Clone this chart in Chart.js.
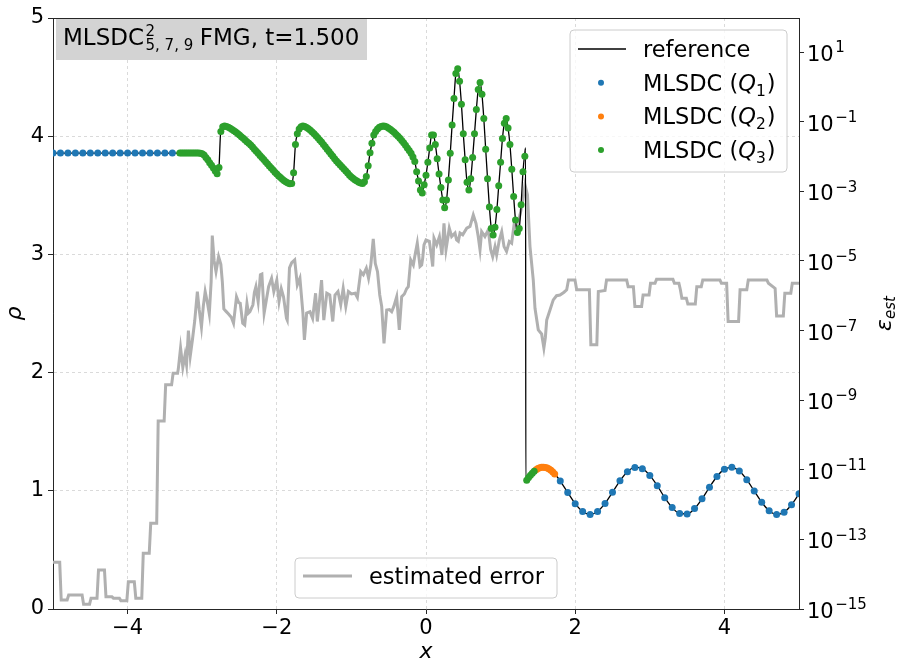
<!DOCTYPE html>
<html>
<head>
<meta charset="utf-8">
<title>MLSDC FMG t=1.500</title>
<script src="https://cdn.jsdelivr.net/npm/chart.js@4.4.1/dist/chart.umd.min.js"></script>
<style>
  html, body { margin: 0; padding: 0; background: #fff; }
  #wrap { width: 900px; height: 671px; position: relative; }
</style>
</head>
<body>
<div id="wrap"><canvas id="c"></canvas></div>
<script>
// ---- Axis ticks ----
var xTicks = [-4, -2, 0, 2, 4];
var rhoTicks = [0, 1, 2, 3, 4, 5];
var errTicks = [1e-15, 1e-13, 1e-11, 1e-9, 1e-7, 1e-5, 1e-3, 1e-1, 1e1];

// ---- MLSDC level Q1 (coarse, dx = 0.1) ----
var q1X = [-5.0, -4.9, -4.8, -4.7, -4.6, -4.5, -4.4, -4.3, -4.2, -4.1, -4.0, -3.9, -3.8, -3.7, -3.6, -3.5, -3.4,
  1.8, 1.9, 2.0, 2.1, 2.2, 2.3, 2.4, 2.5, 2.6, 2.7, 2.8, 2.9, 3.0, 3.1, 3.2, 3.3, 3.4, 3.5, 3.6, 3.7,
  3.8, 3.9, 4.0, 4.1, 4.2, 4.3, 4.4, 4.5, 4.6, 4.7, 4.8, 4.9, 5.0];
var q1Y = [3.857, 3.857, 3.857, 3.857, 3.857, 3.857, 3.857, 3.857, 3.857, 3.857, 3.857, 3.857, 3.857, 3.857, 3.857, 3.857, 3.857,
  1.082, 0.985, 0.891, 0.824, 0.800, 0.825, 0.893, 0.987, 1.084, 1.161, 1.198, 1.187, 1.130, 1.043, 0.942, 0.858, 0.808, 0.804, 0.850, 0.932,
  1.030, 1.121, 1.183, 1.199, 1.167, 1.094, 0.998, 0.903, 0.831, 0.800, 0.819, 0.882, 0.974];

// ---- MLSDC level Q2 ----
var q2X = [1.475, 1.5, 1.525, 1.55, 1.575, 1.6, 1.625, 1.65, 1.675, 1.7, 1.725];
var q2Y = [1.179, 1.188, 1.194, 1.199, 1.200, 1.198, 1.192, 1.184, 1.173, 1.160, 1.143];

// ---- MLSDC level Q3 (fine mesh, nodes from x = -3.3 every 0.025) ----
var q3X0 = -3.3, q3DX = 0.025;
var q3Y = [
  3.857, 3.857, 3.857, 3.857, 3.857, 3.857, 3.857, 3.857, 3.857, 3.857,   // -3.300
  3.857, 3.856, 3.852, 3.840, 3.820, 3.800, 3.776, 3.754, 3.730, 3.706,   // -3.050
  3.682, 3.735, 4.040, 4.080, 4.086, 4.083, 4.076, 4.067, 4.057, 4.046,   // -2.800
  4.035, 4.023, 4.010, 3.996, 3.982, 3.968, 3.954, 3.940, 3.925, 3.908,   // -2.550
  3.890, 3.872, 3.855, 3.837, 3.820, 3.802, 3.784, 3.766, 3.748, 3.730,   // -2.300
  3.713, 3.696, 3.680, 3.664, 3.650, 3.636, 3.624, 3.613, 3.604, 3.598,   // -2.050
  3.600, 3.690, 3.930, 4.020, 4.060, 4.080, 4.086, 4.082, 4.073, 4.062,   // -1.800
  4.050, 4.035, 4.020, 4.003, 3.986, 3.968, 3.950, 3.930, 3.910, 3.890,   // -1.550
  3.870, 3.850, 3.830, 3.810, 3.790, 3.773, 3.756, 3.740, 3.722, 3.705,   // -1.300
  3.688, 3.670, 3.655, 3.642, 3.630, 3.620, 3.610, 3.604, 3.600, 3.615,   // -1.050
  3.660, 3.750, 3.860, 3.940, 4.010, 4.040, 4.060, 4.075, 4.083, 4.086,   // -0.800
  4.084, 4.078, 4.068, 4.057, 4.045, 4.032, 4.015, 4.000, 3.982, 3.963,   // -0.550
  3.944, 3.923, 3.900, 3.880, 3.855, 3.825, 3.785, 3.700, 3.620, 3.545,   // -0.300
  3.520, 3.590, 3.670, 3.780, 3.900, 4.010, 4.010, 3.930, 3.810, 3.680,   // -0.050
  3.565, 3.460, 3.395, 3.460, 3.630, 3.855, 4.095, 4.320, 4.530, 4.570,   //  0.200
  4.465, 4.270, 4.020, 3.800, 3.610, 3.545, 3.640, 3.820, 4.020, 4.225,   //  0.450
  4.395, 4.455, 4.355, 4.150, 3.890, 3.640, 3.400, 3.220, 3.165, 3.230,   //  0.700
  3.380, 3.580, 3.780, 3.980, 4.110, 4.150, 4.070, 3.930, 3.720, 3.490,   //  0.950
  3.290, 3.185, 3.220, 3.420, 3.700, 3.830, 1.090, 1.112, 1.131, 1.149,   //  1.200
  1.165                                                                   //  1.450
];

// ---- Reference solution ----
var refX = [
  -5.0, -3.0, -2.975, -2.9, -2.8, -2.79, -2.775, -2.752, -2.725, -2.7,
  -2.6, -2.5, -2.4, -2.3, -2.2, -2.1, -2.0, -1.9, -1.825, -1.8,
  -1.775, -1.75, -1.725, -1.7, -1.65, -1.55, -1.45, -1.35, -1.25, -1.15,
  -1.05, -0.95, -0.875, -0.85, -0.825, -0.8, -0.775, -0.75, -0.725, -0.7,
  -0.65, -0.575, -0.5, -0.4, -0.3, -0.2,
  -0.15, -0.125, -0.1, -0.075, -0.05, -0.025, 0.0, 0.025, 0.05, 0.075,
  0.1, 0.125, 0.15, 0.175, 0.2, 0.225, 0.25, 0.275, 0.3, 0.325,
  0.35, 0.375, 0.4, 0.425, 0.45, 0.475, 0.5, 0.525, 0.55, 0.575,
  0.6, 0.625, 0.65, 0.675, 0.7, 0.725, 0.75, 0.775, 0.8, 0.825,
  0.85, 0.875, 0.9, 0.925, 0.95, 0.975, 1.0, 1.025, 1.05, 1.075,
  1.1, 1.125, 1.15, 1.175, 1.2, 1.225, 1.25, 1.275, 1.3, 1.325,
  1.335, 1.338, 1.35, 1.4, 1.45, 1.5, 1.55, 1.6, 1.65, 1.7, 1.75,
  1.8, 1.9, 2.0, 2.1, 2.2, 2.3, 2.4, 2.5, 2.6, 2.7, 2.8, 2.9, 3.0, 3.1, 3.2, 3.3, 3.4,
  3.5, 3.6, 3.7, 3.8, 3.9, 4.0, 4.1, 4.2, 4.3, 4.4, 4.5, 4.6, 4.7, 4.8, 4.9, 5.0
];
var refY = [
  3.857, 3.857, 3.840, 3.776, 3.682, 3.677, 3.735, 4.040, 4.080, 4.086,
  4.057, 4.010, 3.954, 3.890, 3.820, 3.748, 3.680, 3.624, 3.598, 3.600,
  3.690, 3.930, 4.020, 4.060, 4.086, 4.050, 3.986, 3.910, 3.830, 3.756,
  3.688, 3.630, 3.604, 3.600, 3.615, 3.660, 3.750, 3.860, 3.940, 4.010,
  4.060, 4.086, 4.068, 4.015, 3.944, 3.855,
  3.785, 3.700, 3.620, 3.545, 3.520, 3.590, 3.670, 3.780, 3.900, 4.010,
  4.010, 3.930, 3.810, 3.680, 3.565, 3.460, 3.395, 3.460, 3.630, 3.855,
  4.095, 4.320, 4.530, 4.570, 4.465, 4.270, 4.020, 3.800, 3.610, 3.545,
  3.640, 3.820, 4.020, 4.225, 4.395, 4.455, 4.355, 4.150, 3.890, 3.640,
  3.400, 3.220, 3.165, 3.230, 3.380, 3.580, 3.780, 3.980, 4.110, 4.150,
  4.070, 3.930, 3.720, 3.490, 3.290, 3.185, 3.220, 3.420, 3.700, 3.860,
  3.900, 1.080, 1.090, 1.131, 1.165, 1.188, 1.199, 1.198, 1.184, 1.160, 1.125,
  1.082, 0.985, 0.891, 0.824, 0.800, 0.825, 0.893, 0.987, 1.084, 1.161, 1.198, 1.187, 1.130, 1.043, 0.942, 0.858, 0.808,
  0.804, 0.850, 0.932, 1.030, 1.121, 1.183, 1.199, 1.167, 1.094, 0.998, 0.903, 0.831, 0.800, 0.819, 0.882, 0.974
];

// ---- Estimated error (right axis), stored as log10 values ----
var errX = [
  -5.0, -4.91, -4.89, -4.81, -4.79, -4.61, -4.59, -4.51, -4.49, -4.41,
  -4.39, -4.31, -4.29, -4.21, -4.19, -4.11, -4.09, -4.01, -3.99, -3.91,
  -3.89, -3.81, -3.79, -3.71, -3.69, -3.61, -3.59, -3.51, -3.49, -3.41,
  -3.39, -3.33,
  -3.32, -3.29, -3.26, -3.23, -3.21, -3.185, -3.16, -3.13, -3.10, -3.065,
  -3.04, -3.01, -2.985, -2.96, -2.93, -2.905, -2.88, -2.865, -2.84, -2.815,
  -2.78, -2.75, -2.73, -2.71, -2.68, -2.65, -2.61, -2.58, -2.54, -2.51,
  -2.49, -2.457, -2.43, -2.40, -2.38, -2.36, -2.32, -2.30, -2.28, -2.25,
  -2.22, -2.20, -2.17, -2.14, -2.11, -2.07, -2.04, -2.00, -1.97, -1.94,
  -1.91, -1.87, -1.86, -1.83, -1.80, -1.76, -1.725, -1.69, -1.65, -1.63,
  -1.60, -1.555, -1.52, -1.48, -1.457, -1.43, -1.40, -1.37, -1.33, -1.29,
  -1.25, -1.22, -1.18, -1.143, -1.11, -1.075, -1.04, -1.00, -0.95, -0.92,
  -0.875, -0.84, -0.80, -0.77, -0.74, -0.707, -0.68, -0.65, -0.62, -0.594,
  -0.563, -0.527, -0.49, -0.46, -0.43, -0.393, -0.358, -0.326, -0.29, -0.26,
  -0.237, -0.205, -0.17, -0.147, -0.117, -0.08, -0.058, -0.044, -0.027, 0.0,
  0.045, 0.076, 0.09, 0.107, 0.143, 0.18, 0.214, 0.241, 0.268, 0.299,
  0.312, 0.344, 0.389, 0.41, 0.433, 0.456, 0.492, 0.546, 0.59, 0.634,
  0.67, 0.70, 0.724, 0.746, 0.79, 0.835, 0.867, 0.894, 0.925, 0.947,
  0.983, 1.015, 1.046, 1.08, 1.117, 1.148, 1.18, 1.216, 1.26, 1.296,
  1.327,
  1.36, 1.394, 1.438, 1.461, 1.505, 1.55, 1.58, 1.60, 1.618, 1.662,
  1.706, 1.75, 1.796, 1.85, 1.886, 1.91, 1.997, 2.02, 2.19, 2.21,
  2.29, 2.31, 2.40, 2.42, 2.69, 2.71, 2.78, 2.80, 2.89, 2.91,
  2.99, 3.01, 3.07, 3.09, 3.31, 3.33, 3.39, 3.41, 3.43, 3.49,
  3.51, 3.61, 3.63, 3.69, 3.71, 3.94, 3.96, 4.03, 4.05, 4.19,
  4.21, 4.30, 4.32, 4.57, 4.59, 4.68, 4.70, 4.79, 4.81, 4.89,
  4.91, 5.0
];
var errLog = [
  -13.66, -13.66, -14.74, -14.74, -14.60, -14.60, -14.86, -14.86, -14.69, -14.69,
  -13.88, -13.88, -14.65, -14.65, -14.69, -14.69, -14.76, -14.76, -14.22, -14.22,
  -14.69, -14.69, -13.40, -13.40, -12.54, -12.54, -9.60, -9.60, -8.56, -8.56,
  -8.23, -8.23,
  -8.10, -7.50, -8.06, -7.70, -7.98, -7.00, -7.73, -7.25, -6.72, -5.88,
  -6.40, -6.90, -6.30, -5.88, -6.20, -6.52, -5.60, -4.27, -5.00, -5.31,
  -4.88, -5.10, -5.60, -6.38, -6.45, -6.52, -6.62, -6.79, -6.03, -6.20,
  -6.22, -6.79, -6.84, -6.22, -6.50, -6.46, -6.26, -5.90, -5.74, -6.17,
  -5.40, -5.38, -6.50, -6.12, -5.74, -5.50, -5.88, -5.55, -6.17, -5.80,
  -6.03, -6.65, -6.70, -5.20, -5.05, -4.97, -5.69, -5.50, -6.50, -7.27,
  -6.50, -6.46, -6.65, -5.93, -6.74, -6.20, -5.55, -6.70, -5.93, -5.98,
  -6.74, -5.98, -5.88, -6.26, -5.79, -6.31, -5.88, -5.95, -5.93, -6.05,
  -5.31, -5.40, -5.21, -5.50, -5.12, -4.37, -5.07, -5.31, -5.98, -6.31,
  -7.37, -6.41, -6.40, -6.46, -6.30, -6.03, -6.98, -6.03, -5.95, -5.80,
  -5.74, -4.97, -5.12, -4.83, -4.49, -5.16, -5.12, -4.92, -4.54, -4.40,
  -4.44, -4.92, -5.16, -4.35, -4.54, -4.30, -4.83, -3.92, -4.68, -4.25,
  -4.06, -4.30, -4.20, -4.40, -4.44, -4.20, -4.25, -4.06, -4.01, -3.68,
  -3.92, -4.30, -4.68, -4.16, -4.30, -4.11, -4.68, -4.88, -4.59, -4.83,
  -4.40, -4.16, -4.59, -4.73, -4.44, -4.49, -3.97, -4.06, -3.68, -3.30,
  -2.82,
  -3.10, -4.59, -5.55, -6.36, -6.98, -7.10, -7.50, -7.20, -6.70, -6.41,
  -6.12, -6.00, -5.98, -5.90, -5.83, -5.55, -5.55, -5.83, -5.83, -7.41,
  -7.41, -5.88, -5.85, -5.55, -5.55, -5.74, -5.74, -6.31, -6.31, -5.98,
  -5.98, -5.64, -5.64, -5.53, -5.53, -5.64, -5.64, -5.83, -6.07, -6.07,
  -6.24, -6.24, -5.74, -5.74, -5.55, -5.55, -5.64, -5.64, -6.74, -6.74,
  -5.83, -5.83, -5.55, -5.55, -5.64, -5.79, -6.58, -6.58, -5.93, -5.93,
  -5.64, -5.64
];

// ---- Style ----
var FAM = "'DejaVu Sans', sans-serif";
var C_Q1 = '#1f77b4', C_Q2 = '#ff7f0e', C_Q3 = '#2ca02c';
var C_ERR = '#b0b0b0', SPINE = '#262626';
var GRID = 'rgba(150,150,150,0.45)';

function pts(xs, ys) { return xs.map(function (x, i) { return { x: x, y: ys[i] }; }); }
function gridPts(x0, dx, ys) { return ys.map(function (y, i) { return { x: +(x0 + i * dx).toFixed(4), y: y }; }); }
function minusFmt(v) { return v < 0 ? '\u2212' + Math.abs(v) : String(v); }
function fixTicks(list) { return function (s) { s.ticks = list.map(function (v) { return { value: v }; }); }; }

function put(ctx, s, x, y, size, style) {
  ctx.font = (style ? style + ' ' : '') + size + 'px ' + FAM;
  ctx.fillText(s, x, y);
  return ctx.measureText(s).width;
}
function roundBox(ctx, x, y, w, h, r) {
  ctx.beginPath();
  ctx.moveTo(x + r, y); ctx.lineTo(x + w - r, y); ctx.arcTo(x + w, y, x + w, y + r, r);
  ctx.lineTo(x + w, y + h - r); ctx.arcTo(x + w, y + h, x + w - r, y + h, r);
  ctx.lineTo(x + r, y + h); ctx.arcTo(x, y + h, x, y + h - r, r);
  ctx.lineTo(x, y + r); ctx.arcTo(x, y, x + r, y, r);
  ctx.closePath();
  ctx.fillStyle = 'rgba(255,255,255,0.8)'; ctx.fill();
  ctx.strokeStyle = '#cccccc'; ctx.lineWidth = 1; ctx.stroke();
}

// ---- Decorations: title box, legends, axis titles, log tick labels ----
var decor = {
  id: 'decor',
  afterDraw: function (chart) {
    var ctx = chart.ctx, a = chart.chartArea;
    ctx.save();
    ctx.textAlign = 'left'; ctx.textBaseline = 'alphabetic';

    // top spine
    ctx.strokeStyle = SPINE; ctx.lineWidth = 1;
    ctx.beginPath(); ctx.moveTo(a.left, a.top + 0.5); ctx.lineTo(a.right, a.top + 0.5); ctx.stroke();

    // title box
    ctx.fillStyle = '#d3d3d3';
    ctx.fillRect(a.left + 3, a.top + 1, 311, 41);
    ctx.fillStyle = '#000';
    var bx = a.left + 10, by = a.top + 27;
    bx += put(ctx, 'MLSDC', bx, by, 23) + 1.5;
    put(ctx, '2', bx, by - 9, 15);
    bx += put(ctx, '5, 7, 9', bx, by + 5, 15) + 6.5;
    put(ctx, 'FMG, t=1.500', bx, by, 23);

    // main legend (upper right)
    var lw = 217, lh = 142, lx = a.right - 12 - lw, ly = a.top + 12;
    roundBox(ctx, lx, ly, lw, lh, 4);
    var rows = [
      { kind: 'line', color: '#000', sub: null },
      { kind: 'dot', color: C_Q1, sub: '1' },
      { kind: 'dot', color: C_Q2, sub: '2' },
      { kind: 'dot', color: C_Q3, sub: '3' }
    ];
    rows.forEach(function (r, i) {
      var cy = ly + 19 + i * 33.7;
      if (r.kind === 'line') {
        ctx.strokeStyle = r.color; ctx.lineWidth = 1.5;
        ctx.beginPath(); ctx.moveTo(lx + 8, cy); ctx.lineTo(lx + 56, cy); ctx.stroke();
      } else {
        ctx.fillStyle = r.color;
        ctx.beginPath(); ctx.arc(lx + 31, cy, 3, 0, Math.PI * 2); ctx.fill();
      }
      ctx.fillStyle = '#000';
      var tx = lx + 73, tb = cy + 8;
      if (!r.sub) { put(ctx, 'reference', tx, tb, 22.5); return; }
      tx += put(ctx, 'MLSDC (', tx, tb, 22.5);
      tx += put(ctx, 'Q', tx, tb, 22.5, 'italic');
      tx += put(ctx, r.sub, tx, tb + 5, 15.5) + 1;
      put(ctx, ')', tx, tb, 22.5);
    });

    // error legend (lower centre)
    var ew = 262, eh = 40, ex = (a.left + a.right) / 2 - ew / 2, ey = a.bottom - 11 - eh;
    roundBox(ctx, ex, ey, ew, eh, 4);
    ctx.strokeStyle = C_ERR; ctx.lineWidth = 3;
    ctx.beginPath(); ctx.moveTo(ex + 8, ey + 18); ctx.lineTo(ex + 57, ey + 18); ctx.stroke();
    ctx.fillStyle = '#000';
    put(ctx, 'estimated error', ex + 74, ey + 26, 22.5);

    // right axis tick labels: 10^n
    var s2 = chart.scales.y2;
    errTicks.forEach(function (v) {
      var y = s2.getPixelForValue(v), e = Math.round(Math.log10(v));
      var x = a.right + 8, base = y + 9;
      var w = put(ctx, '10', x, base, 21);
      put(ctx, minusFmt(e), x + w + 1.5, base - 8.7, 15);
    });

    // axis titles
    ctx.textAlign = 'center';
    put(ctx, 'x', (a.left + a.right) / 2, a.bottom + 49, 22, 'italic');
    var midY = (a.top + a.bottom) / 2;
    ctx.save();
    ctx.translate(21, midY); ctx.rotate(-Math.PI / 2);
    put(ctx, '\u03c1', 0, 0, 22, 'italic');
    ctx.restore();
    ctx.save();
    ctx.translate(891, midY); ctx.rotate(-Math.PI / 2);
    ctx.textAlign = 'left';
    ctx.font = 'italic 22px ' + FAM;
    var w1 = ctx.measureText('\u03b5').width;
    ctx.font = 'italic 15px ' + FAM;
    var w2 = ctx.measureText('est').width;
    var sx = -(w1 + w2) / 2;
    put(ctx, '\u03b5', sx, 0, 22, 'italic');
    put(ctx, 'est', sx + w1, 4, 15, 'italic');
    ctx.restore();

    ctx.restore();
  }
};

Chart.defaults.font.family = FAM;

new Chart(document.getElementById('c'), {
  type: 'scatter',
  data: {
    datasets: [
      { label: 'MLSDC (Q3)', data: gridPts(q3X0, q3DX, q3Y), backgroundColor: C_Q3,
        pointRadius: 3.5, pointBorderWidth: 0, order: 1, clip: 0 },
      { label: 'MLSDC (Q2)', data: pts(q2X, q2Y), backgroundColor: C_Q2,
        pointRadius: 3.5, pointBorderWidth: 0, order: 1, clip: 0 },
      { label: 'MLSDC (Q1)', data: pts(q1X, q1Y), backgroundColor: C_Q1,
        pointRadius: 3.5, pointBorderWidth: 0, order: 1, clip: 0 },
      { type: 'line', label: 'reference', data: pts(refX, refY), borderColor: '#000', borderWidth: 1.3,
        pointRadius: 0, fill: false, cubicInterpolationMode: 'monotone', order: 2, clip: 0 },
      { type: 'line', label: 'estimated error', yAxisID: 'y2',
        data: errX.map(function (x, i) { return { x: x, y: Math.pow(10, errLog[i]) }; }),
        borderColor: C_ERR, borderWidth: 3, pointRadius: 0, fill: false, tension: 0,
        borderJoinStyle: 'miter', order: 3, clip: 0 }
    ]
  },
  options: {
    responsive: true, maintainAspectRatio: false, animation: false,
    layout: { padding: { top: 18, left: 0, right: 0, bottom: 0 } },
    events: [],
    plugins: { legend: { display: false }, tooltip: { enabled: false } },
    scales: {
      x: {
        type: 'linear', min: -5, max: 5,
        afterBuildTicks: fixTicks(xTicks),
        afterFit: function (s) { s.height = 62; },
        grid: { color: GRID, lineWidth: 0.8, drawTicks: true, tickLength: 5, tickColor: SPINE, tickWidth: 1 },
        border: { display: true, color: SPINE, width: 1, dash: [3, 3] },
        ticks: { color: '#000', font: { size: 21 }, padding: 2, maxRotation: 0, autoSkip: false,
          callback: function (v) { return minusFmt(v); } }
      },
      y: {
        type: 'linear', position: 'left', min: 0, max: 5,
        afterBuildTicks: fixTicks(rhoTicks),
        afterFit: function (s) { s.width = 53; },
        grid: { color: GRID, lineWidth: 0.8, drawTicks: true, tickLength: 5, tickColor: SPINE, tickWidth: 1 },
        border: { display: true, color: SPINE, width: 1, dash: [3, 3] },
        ticks: { color: '#000', font: { size: 21 }, padding: 4, autoSkip: false,
          callback: function (v) { return minusFmt(v); } }
      },
      y2: {
        type: 'logarithmic', position: 'right', min: 1e-15, max: 95,
        afterBuildTicks: fixTicks(errTicks),
        afterFit: function (s) { s.width = 101; },
        grid: { drawOnChartArea: false, drawTicks: true, tickLength: 5, tickColor: SPINE, tickWidth: 1 },
        border: { display: true, color: SPINE, width: 1 },
        ticks: { display: false }
      }
    }
  },
  plugins: [decor]
});
</script>
</body>
</html>
